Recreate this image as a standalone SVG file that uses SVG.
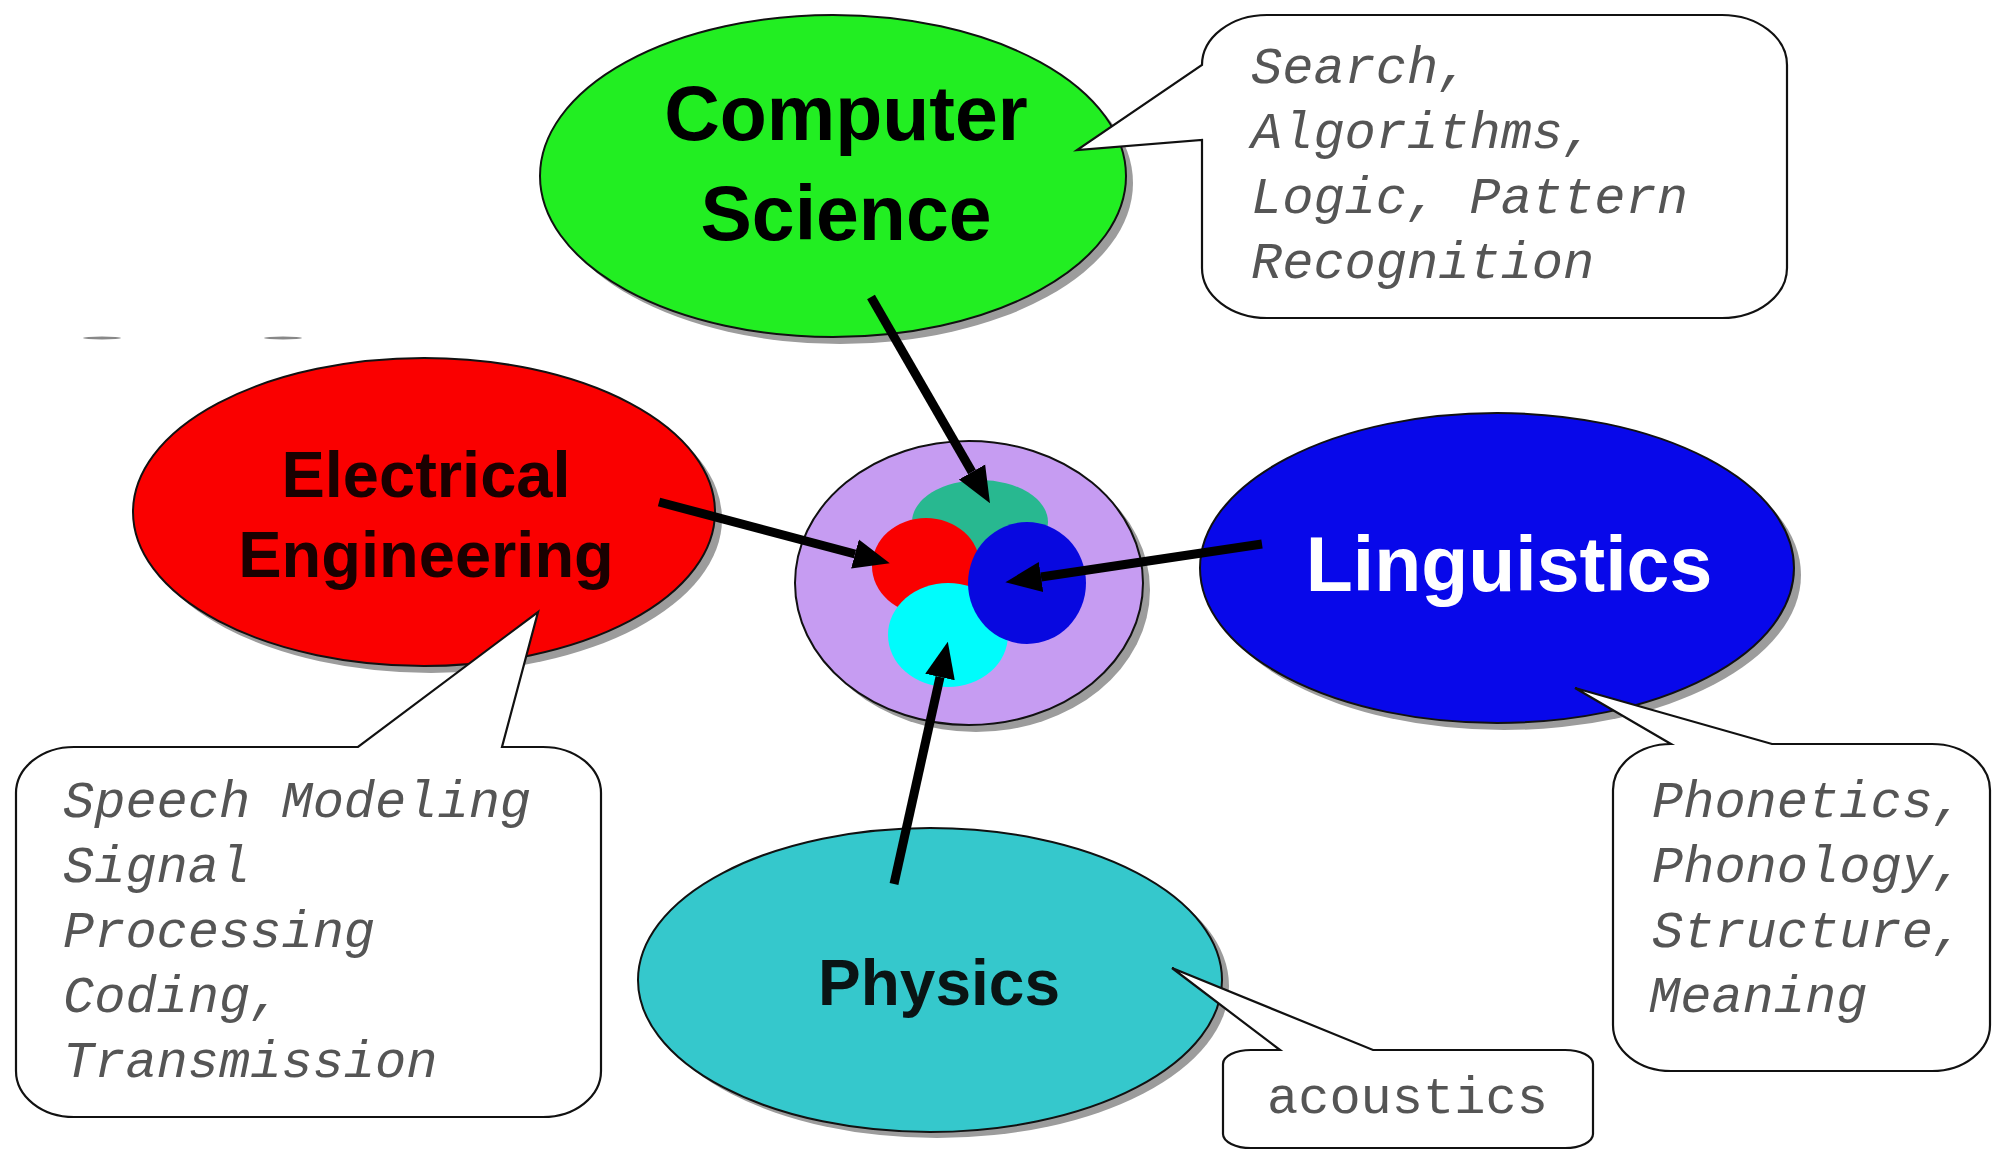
<svg xmlns="http://www.w3.org/2000/svg" width="1994" height="1151" viewBox="0 0 1994 1151">
<defs>
<style>
.shadow{fill:#9c9c9c}
.ell{stroke:#111;stroke-width:2}
.title{font-family:"Liberation Sans",Arial,sans-serif;font-weight:bold;text-anchor:middle}
.callout{fill:#fff;stroke:#111;stroke-width:2.2;stroke-linejoin:miter}
.note{font-family:"Liberation Mono","Courier New",monospace;font-size:52px;font-style:italic;fill:#555}
.plain{font-family:"Liberation Mono","Courier New",monospace;font-size:52px;fill:#555}
.arrow{stroke:#000;stroke-width:9;fill:none;marker-end:url(#head)}
</style>
<marker id="head" viewBox="0 0 10 10" refX="0" refY="5" markerWidth="4" markerHeight="4" orient="auto" markerUnits="strokeWidth">
<path d="M0,0.8 L10,5 L0,9.2 Z" fill="#000"/>
</marker>
</defs>
<rect width="1994" height="1151" fill="#fff"/>
<ellipse cx="102" cy="338" rx="19" ry="1.5" fill="#888"/>
<ellipse cx="283" cy="338" rx="19" ry="1.5" fill="#888"/>

<g id="node-computer-science">
<ellipse class="shadow" cx="840" cy="183" rx="293" ry="161"/>
<ellipse class="ell" cx="833" cy="176" rx="293" ry="161" fill="#22ee22"/>
<text class="title" x="846" y="140" font-size="77" fill="#000">Computer</text>
<text class="title" x="846" y="240" font-size="77" fill="#000">Science</text>
</g>

<g id="node-electrical-engineering">
<ellipse class="shadow" cx="431" cy="519" rx="291" ry="154"/>
<ellipse class="ell" cx="424" cy="512" rx="291" ry="154" fill="#fa0000"/>
<text class="title" x="426" y="497" font-size="65" fill="#1a0000">Electrical</text>
<text class="title" x="426" y="577" font-size="65" fill="#1a0000">Engineering</text>
</g>

<g id="node-linguistics">
<ellipse class="shadow" cx="1504" cy="575" rx="297" ry="155"/>
<ellipse class="ell" cx="1497" cy="568" rx="297" ry="155" fill="#0808ea"/>
<text class="title" x="1509" y="591" font-size="77" fill="#fff">Linguistics</text>
</g>

<g id="node-physics">
<ellipse class="shadow" cx="937" cy="986" rx="292" ry="152"/>
<ellipse class="ell" cx="930" cy="980" rx="292" ry="152" fill="#35c8cc"/>
<text class="title" x="939" y="1005" font-size="64" fill="#0a1414">Physics</text>
</g>

<g id="callout-computer-science">
<path class="callout" d="M1267,15 H1722 A65,50 0 0 1 1787,65 V268 A65,50 0 0 1 1722,318 H1267 A65,50 0 0 1 1202,268 V140 L1077,150 L1202,65 A65,50 0 0 1 1267,15 Z"/>
<text class="note" x="1251" y="83">Search,</text>
<text class="note" x="1251" y="148">Algorithms,</text>
<text class="note" x="1251" y="213">Logic, Pattern</text>
<text class="note" x="1251" y="278">Recognition</text>
</g>

<g id="callout-electrical-engineering">
<path class="callout" d="M74,747 H358 L538,612 L502,747 H543 A58,46 0 0 1 601,793 V1071 A58,46 0 0 1 543,1117 H74 A58,46 0 0 1 16,1071 V793 A58,46 0 0 1 74,747 Z"/>
<text class="note" x="63" y="817">Speech Modeling</text>
<text class="note" x="63" y="882">Signal</text>
<text class="note" x="63" y="947">Processing</text>
<text class="note" x="63" y="1012">Coding,</text>
<text class="note" x="63" y="1077">Transmission</text>
</g>

<g id="callout-linguistics">
<path class="callout" d="M1671,744 L1575,688 L1772,744 H1932 A58,46 0 0 1 1990,790 V1025 A58,46 0 0 1 1932,1071 H1671 A58,46 0 0 1 1613,1025 V790 A58,46 0 0 1 1671,744 Z"/>
<text class="note" x="1652" y="817">Phonetics,</text>
<text class="note" x="1652" y="882">Phonology,</text>
<text class="note" x="1652" y="947">Structure,</text>
<text class="note" x="1649" y="1012">Meaning</text>
</g>

<g id="callout-physics">
<path class="callout" d="M1251,1050 H1280 L1172,968 L1373,1050 H1565 A28,14 0 0 1 1593,1064 V1134 A28,14 0 0 1 1565,1148 H1251 A28,14 0 0 1 1223,1134 V1064 A28,14 0 0 1 1251,1050 Z"/>
<text class="plain" x="1267" y="1113">acoustics</text>
</g>

<g id="node-speech-core">
<ellipse class="shadow" cx="976" cy="590" rx="174" ry="142"/>
<ellipse class="ell" cx="969" cy="583" rx="174" ry="142" fill="#c69cf2"/>
<ellipse cx="980" cy="522" rx="68" ry="42" fill="#28b890"/>
<ellipse cx="926" cy="566" rx="54" ry="48" fill="#fa0000"/>
<ellipse cx="948" cy="635" rx="60" ry="52" fill="#00fcfc"/>
<ellipse cx="1027" cy="583" rx="59" ry="61" fill="#0808e0"/>
</g>

<g id="connectors">
<line class="arrow" x1="871" y1="297" x2="972" y2="472"/>
<line class="arrow" x1="659" y1="502" x2="855" y2="554"/>
<line class="arrow" x1="1262" y1="544" x2="1041" y2="577"/>
<line class="arrow" x1="894" y1="884" x2="940" y2="677"/>
</g>
</svg>
